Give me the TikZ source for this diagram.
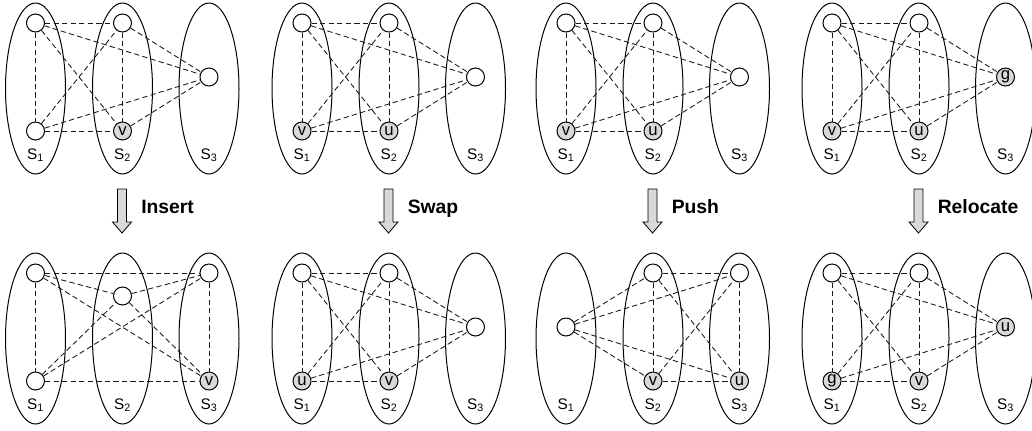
\documentclass[tikz,border=0pt]{standalone}
\usepackage{fontspec}
\setmainfont{Liberation Sans}
\usetikzlibrary{shapes.geometric}
\tikzset{
  setell/.style={draw, ellipse, minimum width=45pt, minimum height=128.25pt, inner sep=0pt, line width=0.75pt},
  vtx/.style={draw, circle, fill=white, minimum size=13.5pt, inner sep=0pt, line width=0.75pt, font=\fontsize{12.5}{13}\selectfont},
  mk/.style={vtx, fill=gray!30},
  lnk/.style={dash pattern=on 4pt off 2.4pt, line width=0.65pt, black!90},
  setlbl/.style={anchor=base, inner sep=0pt, font=\fontsize{11.5}{12}\selectfont},
  oplbl/.style={anchor=base west, inner sep=0pt, font=\bfseries\fontsize{14.5}{16}\selectfont},
  opar/.style={draw, line width=0.6pt, fill=gray!30}
}
\begin{document}
\begin{tikzpicture}[x=0.75pt,y=-0.75pt]
\useasboundingbox (0,0) rectangle (1032,430);
% set ellipses and labels
\foreach \ox [count=\k] in {35.5,302,566,832} {
  \foreach \oy/\r in {88.5/t,338.5/b} {
    \foreach \dx [count=\s] in {0,87,173.5} {
      \node[setell] (\r\k s\s) at (\ox+\dx,\oy) {};
      \node[setlbl] (\r\k l\s) at (\ox+\dx,\oy+71) {S\textsubscript{\s}};
    }
  }
}
% ---- top row
% panel 1
\node[vtx] (t1a) at (35.5,23) {};
\node[vtx] (t1b) at (35.5,131) {};
\node[vtx] (t1c) at (122.5,23) {};
\node[mk]  (t1d) at (122.5,131) {v};
\node[vtx] (t1e) at (209,77) {};
% panel 2
\node[vtx] (t2a) at (302,23) {};
\node[mk]  (t2b) at (302,131) {v};
\node[vtx] (t2c) at (389,23) {};
\node[mk]  (t2d) at (389,131) {u};
\node[vtx] (t2e) at (475.5,77) {};
% panel 3
\node[vtx] (t3a) at (566,23) {};
\node[mk]  (t3b) at (566,131) {v};
\node[vtx] (t3c) at (653,23) {};
\node[mk]  (t3d) at (653,131) {u};
\node[vtx] (t3e) at (739.5,77) {};
% panel 4
\node[vtx] (t4a) at (832,23) {};
\node[mk]  (t4b) at (832,131) {v};
\node[vtx] (t4c) at (919,23) {};
\node[mk]  (t4d) at (919,131) {u};
\node[mk]  (t4e) at (1005.5,77) {g};
% ---- bottom row
% panel 1
\node[vtx] (b1a) at (35.5,273) {};
\node[vtx] (b1b) at (35.5,381) {};
\node[vtx] (b1c) at (122.5,296) {};
\node[vtx] (b1d) at (209,273) {};
\node[mk]  (b1e) at (209,381) {v};
% panel 2
\node[vtx] (b2a) at (302,273) {};
\node[mk]  (b2b) at (302,381) {u};
\node[vtx] (b2c) at (389,273) {};
\node[mk]  (b2d) at (389,381) {v};
\node[vtx] (b2e) at (475.5,327) {};
% panel 3
\node[vtx] (b3a) at (566,327) {};
\node[vtx] (b3b) at (653,273) {};
\node[mk]  (b3c) at (653,381) {v};
\node[vtx] (b3d) at (739.5,273) {};
\node[mk]  (b3e) at (739.5,381) {u};
% panel 4
\node[vtx] (b4a) at (832,273) {};
\node[mk]  (b4b) at (832,381) {g};
\node[vtx] (b4c) at (919,273) {};
\node[mk]  (b4d) at (919,381) {v};
\node[mk]  (b4e) at (1005.5,327) {u};
% ---- complete graphs
\foreach \r in {t,b} {
  \foreach \p in {1,2,3,4} {
    \foreach \i/\j in {a/b,a/c,a/d,a/e,b/c,b/d,b/e,c/d,c/e,d/e}
      \draw[lnk] (\r\p\i) -- (\r\p\j);
  }
}
% ---- operation arrows
\foreach \ax/\lab [count=\k] in {122/Insert,388.5/Swap,652.5/Push,918.5/Relocate} {
  \draw[opar] (\ax-4.5,189) -- (\ax+4.5,189) -- (\ax+4.5,222) -- (\ax+9.5,222)
     -- (\ax,233) -- (\ax-9.5,222) -- (\ax-4.5,222) -- cycle;
  \node[oplbl] (op\k) at (\ax+19,213) {\lab};
}
\end{tikzpicture}
\end{document}
